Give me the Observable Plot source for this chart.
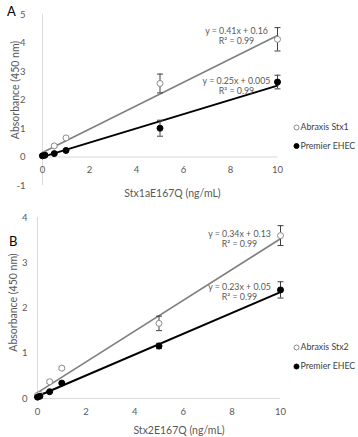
<!DOCTYPE html>
<html>
<head>
<meta charset="utf-8">
<script src="https://cdn.jsdelivr.net/npm/d3@7"></script>
<script src="https://cdn.jsdelivr.net/npm/@observablehq/plot@0.6"></script>
<style>
  body { margin: 0; background: #fff; }
  #root { position: relative; width: 358px; height: 437px; background: #fff; font-family: Lato, sans-serif; }
  .pl { position: absolute; left: 0; }
  .tag { position: absolute; font: 13px Lato, sans-serif; color: #000; }
</style>
</head>
<body>
<div id="root">
  <div id="A" class="pl" style="top:0"></div>
  <div id="B" class="pl" style="top:200px"></div>
  <div class="tag" style="left:7px;top:3px">A</div>
  <div class="tag" style="left:9px;top:233px">B</div>
</div>
<script>
// ---- data ----
const concentrations = [0, 0.1, 0.5, 1, 5, 10];
const xTicks = [0, 2, 4, 6, 8, 10];
const yTicksA = [-1, 0, 1, 2, 3, 4, 5];
const yTicksB = [0, 1, 2, 3, 4];
const yLabel = "Absorbance (450 nm)";
const xLabelA = "Stx1aE167Q (ng/mL)";
const xLabelB = "Stx2E167Q (ng/mL)";

const seriesA = ["Abraxis Stx1", "Premier EHEC"];
const abraxisA = [0.05, 0.09, 0.39, 0.67, 2.58, 4.13];
const abraxisAErr = [0.02, 0.02, 0.03, 0.05, 0.33, 0.41];
const premierA = [0.04, 0.06, 0.12, 0.23, 1.01, 2.63];
const premierAErr = [0.01, 0.01, 0.02, 0.03, 0.28, 0.24];
const slopesA = [0.41, 0.25];
const interceptsA = [0.16, 0.005];
const equationsA = ["y = 0.41x + 0.16", "y = 0.25x + 0.005"];
const r2A = ["R² = 0.99", "R² = 0.99"];

const seriesB = ["Abraxis Stx2", "Premier EHEC"];
const abraxisB = [0.07, 0.09, 0.37, 0.67, 1.66, 3.6];
const abraxisBErr = [0.01, 0.01, 0.03, 0.03, 0.16, 0.22];
const premierB = [0.03, 0.05, 0.15, 0.34, 1.16, 2.4];
const premierBErr = [0.01, 0.01, 0.01, 0.02, 0.06, 0.18];
const slopesB = [0.34, 0.23];
const interceptsB = [0.13, 0.05];
const equationsB = ["y = 0.34x + 0.13", "y = 0.23x + 0.05"];
const r2B = ["R² = 0.99", "R² = 0.99"];

// ---- styles ----
const lineColors = ["#7f7f7f", "#000000"];
const dotFills = ["#ffffff", "#000000"];
const dotStrokes = ["#8c8c8c", "#000000"];
const lineWidths = [1.6, 2];
const textGray = "#595959";
const axisGray = "#d9d9d9";
const FONT = "Lato, sans-serif";

const cap = {draw(ctx, size) { const r = Math.sqrt(size / Math.PI); ctx.moveTo(-r, 0); ctx.lineTo(r, 0); }};

function panel(cfg) {
  const rows = [];
  cfg.names.forEach((name, i) => {
    concentrations.forEach((x, j) => rows.push({s: i, name, x, y: cfg.values[i][j], err: cfg.errors[i][j]}));
  });
  const xmin = d3.min(concentrations), xmax = d3.max(concentrations);
  const trend = [];
  cfg.names.forEach((name, i) => {
    [xmin, xmax].forEach(x => trend.push({s: i, x, y: cfg.slopes[i] * x + cfg.intercepts[i]}));
  });
  const eqs = cfg.names.map((name, i) => ({s: i, x: xmax, y: cfg.slopes[i] * xmax + cfg.intercepts[i], text: cfg.eqs[i] + "\n" + cfg.r2[i]}));
  const marks = [
    Plot.ruleY([0], {stroke: axisGray, strokeWidth: 1}),
    Plot.ruleX([0], {stroke: axisGray, strokeWidth: 1}),
    Plot.axisY({ticks: cfg.yTicks, tickSize: 0, tickPadding: cfg.yPad, label: null, fill: textGray, fontSize: 9.5, tickFormat: d => d < 0 ? "-" + Math.abs(d) : d}),
    Plot.axisX({ticks: xTicks, tickSize: 0, tickPadding: cfg.xPad, dy: cfg.xDy, label: null, fill: textGray, fontSize: 9.5})
  ];
  cfg.names.forEach((name, i) => {
    marks.push(Plot.line(trend.filter(d => d.s === i), {x: "x", y: "y", stroke: lineColors[i], strokeWidth: lineWidths[i]}));
  });
  cfg.names.forEach((name, i) => {
    const r = rows.filter(d => d.s === i);
    marks.push(Plot.ruleX(r, {x: "x", y1: d => d.y - d.err, y2: d => d.y + d.err, stroke: "#404040", strokeWidth: 1}));
    marks.push(Plot.dot(r, {x: "x", y: d => d.y + d.err, symbol: cap, r: 3, stroke: "#404040", strokeWidth: 1}));
    marks.push(Plot.dot(r, {x: "x", y: d => d.y - d.err, symbol: cap, r: 3, stroke: "#404040", strokeWidth: 1}));
    marks.push(Plot.dot(r, {x: "x", y: "y", r: 3, fill: dotFills[i], stroke: dotStrokes[i], strokeWidth: 1}));
  });
  marks.push(Plot.text(eqs, {x: "x", y: "y", text: "text", dx: -41, textAnchor: "middle", lineAnchor: "middle", lineHeight: 1.15, fontSize: 8.8, fill: textGray}));
  // legend
  cfg.names.forEach((name, i) => {
    marks.push(Plot.dot([name], {frameAnchor: "right", dx: cfg.legDx, dy: cfg.legDy[i], r: 2.5, fill: dotFills[i], stroke: dotStrokes[i], strokeWidth: 1}));
    marks.push(Plot.text([name], {frameAnchor: "right", text: d => d, dx: cfg.legDx + 4, dy: cfg.legDy[i], textAnchor: "start", fontSize: 8.8, fill: "#404040"}));
  });
  marks.push(Plot.text([cfg.xLabel], {frameAnchor: "bottom", text: d => d, dx: cfg.xlDx, dy: cfg.xlDy, textAnchor: "middle", lineAnchor: "middle", fontSize: 10.5, fill: textGray}));
  marks.push(Plot.text([yLabel], {frameAnchor: "left", text: d => d, rotate: -90, dx: cfg.ylDx, dy: cfg.ylDy, textAnchor: "middle", lineAnchor: "middle", fontSize: 10.5, fill: textGray}));

  return Plot.plot({
    width: 358,
    height: cfg.height,
    marginLeft: cfg.m[0], marginRight: cfg.m[1], marginTop: cfg.m[2], marginBottom: cfg.m[3],
    x: {domain: [xmin, xmax], axis: null},
    y: {domain: cfg.yDomain, axis: null},
    style: {fontFamily: FONT, background: "transparent", overflow: "visible"},
    marks
  });
}

document.getElementById("A").append(panel({
  names: seriesA, values: [abraxisA, premierA], errors: [abraxisAErr, premierAErr],
  slopes: slopesA, intercepts: interceptsA, eqs: equationsA, r2: r2A,
  yDomain: [-1, 5], yTicks: yTicksA, yPad: 17, xPad: 3, xDy: -22,
  height: 200, m: [42, 81, 14, 15],
  legDx: 19, legDy: [27.5, 46],
  xLabel: xLabelA, xlDx: 12.5, xlDy: 8,
  ylDx: -27, ylDy: -10
}));

document.getElementById("B").append(panel({
  names: seriesB, values: [abraxisB, premierB], errors: [abraxisBErr, premierBErr],
  slopes: slopesB, intercepts: interceptsB, eqs: equationsB, r2: r2B,
  yDomain: [0, 4], yTicks: yTicksB, yPad: 10, xPad: 10, xDy: 0,
  height: 237, m: [37, 78, 17, 39],
  legDx: 16, legDy: [39.5, 58.5],
  xLabel: xLabelB, xlDx: 20, xlDy: 32,
  ylDx: -24, ylDy: -5.5
}));
</script>
</body>
</html>
